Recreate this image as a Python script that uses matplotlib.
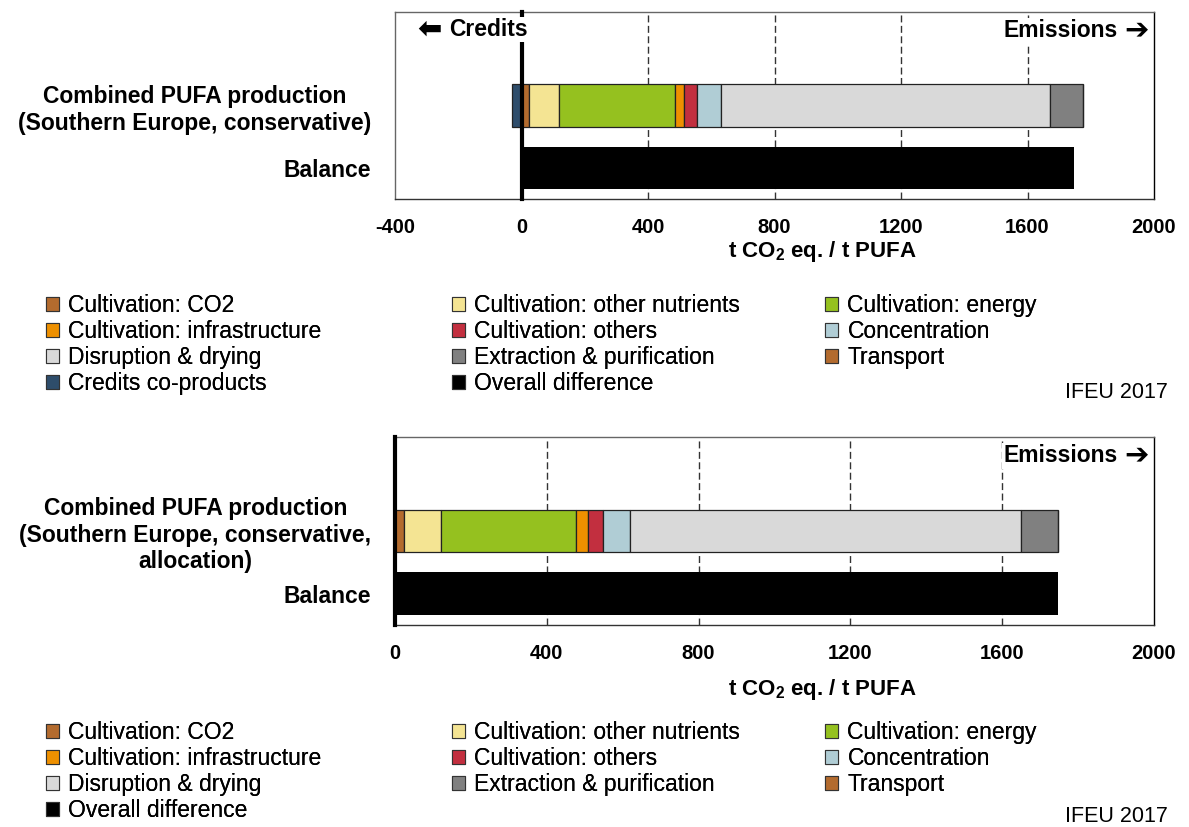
import numpy as np
import matplotlib
matplotlib.use('Agg')
from matplotlib import pyplot as plt
from matplotlib.patches import Patch
from matplotlib.transforms import offset_copy

plt.rcParams['font.family'] = ['Liberation Sans', 'DejaVu Sans']
plt.rcParams['mathtext.fontset'] = 'custom'
plt.rcParams['mathtext.rm'] = 'Liberation Sans'
plt.rcParams['mathtext.bf'] = 'Liberation Sans:bold'

# contributions, t CO2 eq. / t PUFA
stages = ['Cultivation: CO2', 'Cultivation: other nutrients', 'Cultivation: energy',
          'Cultivation: infrastructure', 'Cultivation: others', 'Concentration',
          'Disruption & drying', 'Extraction & purification', 'Transport',
          'Credits co-products']
colors = ['#B36B2E', '#F4E493', '#95C11F', '#EE9000', '#C22F3F', '#B0CDD5',
          '#D9D9D9', '#808080', '#B36B2E', '#2E4D6B']

top_values = [25, 94, 366, 30, 41, 75, 1041, 104, 0, -30]
top_balance = 1746
bottom_values = [23, 97, 357, 32, 38, 72, 1030, 99, 0]
bottom_balance = 1748

top_labels = ['Balance', 'Combined PUFA production\n(Southern Europe, conservative)']
bottom_labels = ['Balance', 'Combined PUFA production\n(Southern Europe, conservative,\nallocation)']
xticks = [-400, 0, 400, 800, 1200, 1600, 2000]

W, H = 1189, 827
fig = plt.figure(figsize=(W / 100, H / 100), dpi=100)


def px(x0, y0, x1, y1):
    return [x0 / W, 1 - y1 / H, (x1 - x0) / W, (y1 - y0) / H]


def draw(ax, values, balance, labels, xmin):
    pos = 0
    neg = 0
    for v, c in zip(values, colors):
        if v >= 0:
            ax.barh(1, v, left=pos, height=0.68, color=c, edgecolor='#222222', lw=0.9, zorder=3)
            pos += v
        else:
            ax.barh(1, v, left=neg, height=0.68, color=c, edgecolor='#222222', lw=0.9, zorder=3)
            neg += v
    ax.barh(0, balance, height=0.68, color='black', zorder=3)
    ax.axvline(0, color='black', lw=3, zorder=5, clip_on=False)
    ax.set_xlim(xmin, 2000)
    ax.set_ylim(-0.5, 2.5)
    ax.set_xticks([t for t in xticks if t >= xmin])
    ax.set_xticklabels([str(t) for t in xticks if t >= xmin], fontsize=14.5, fontweight='bold')
    ax.set_yticks([0, 1])
    ax.set_yticklabels(labels, fontsize=16.5, fontweight='bold', multialignment='center')
    ax.tick_params(length=0, pad=14)
    ax.tick_params(axis='y', pad=17)
    for t in ax.get_xticks():
        if t != 0 and xmin < t < 2000:
            ax.axvline(t, color='#333333', lw=1, ls=(0, (5, 2.5)), zorder=1)
    for s in ax.spines.values():
        s.set_color('#666666')
        s.set_linewidth(1)
    ax.spines['right'].set_color('black')
    ax.spines['bottom'].set_color('#333333')
    tr = offset_copy(ax.transAxes, fig=fig, x=-31, y=0, units='dots')
    ax.text(0.993, 0.9, '\u2794', transform=ax.transAxes, ha='right', va='center',
            fontsize=21, fontweight='bold', zorder=6)
    ax.text(0.993, 0.9, 'Emissions', transform=tr, ha='right', va='center',
            fontsize=16.5, fontweight='bold', zorder=6,
            bbox=dict(facecolor='white', edgecolor='none', pad=1))


def legend(entries, rows_y):
    cols_x = [46, 452, 825]
    col_items = [entries[0::3], entries[1::3], entries[2::3]]
    for cx, items in zip(cols_x, col_items):
        handles = [Patch(facecolor=colors_map[e], edgecolor='#333333', lw=0.8) for e in items]
        lg = fig.legend(handles, items, loc='upper left', bbox_to_anchor=(cx / W, 1 - rows_y / H),
                        frameon=False, fontsize=16.5, handlelength=0.58, handleheight=0.58,
                        handletextpad=0.4, labelspacing=0.135, borderpad=0, borderaxespad=0)
        fig.add_artist(lg)


colors_map = dict(zip(stages, colors))
colors_map['Overall difference'] = 'black'

# top chart
ax1 = fig.add_axes(px(395, 12, 1154, 199))
draw(ax1, top_values, top_balance, top_labels, -400)
ax1.text(-290, 2.22, '\u2b05', ha='center', va='center', fontsize=21, fontweight='bold', zorder=6)
ax1.text(-228, 2.22, 'Credits', ha='left', va='center', fontsize=16.5, fontweight='bold',
         zorder=6, bbox=dict(facecolor='white', edgecolor='none', pad=1))
fig.text(822 / W, 1 - 252 / H, r't CO$_{\mathbf{2}}$ eq. / t PUFA', ha='center', va='center',
         fontsize=16, fontweight='bold')

order_top = ['Cultivation: CO2', 'Cultivation: other nutrients', 'Cultivation: energy',
             'Cultivation: infrastructure', 'Cultivation: others', 'Concentration',
             'Disruption & drying', 'Extraction & purification', 'Transport',
             'Credits co-products', 'Overall difference']
legend(order_top, 294)
fig.text(1168 / W, 1 - 392 / H, 'IFEU 2017', ha='right', va='center', fontsize=15.5)

# bottom chart (with allocation, no credits)
ax2 = fig.add_axes(px(395, 437, 1154, 625))
draw(ax2, bottom_values, bottom_balance, bottom_labels, 0)
fig.text(822 / W, 1 - 690 / H, r't CO$_{\mathbf{2}}$ eq. / t PUFA', ha='center', va='center',
         fontsize=16, fontweight='bold')

order_bottom = ['Cultivation: CO2', 'Cultivation: other nutrients', 'Cultivation: energy',
                'Cultivation: infrastructure', 'Cultivation: others', 'Concentration',
                'Disruption & drying', 'Extraction & purification', 'Transport',
                'Overall difference']
legend(order_bottom, 721)
fig.text(1168 / W, 1 - 817 / H, 'IFEU 2017', ha='right', va='center', fontsize=15.5)

fig.savefig('out.png', dpi=100)
